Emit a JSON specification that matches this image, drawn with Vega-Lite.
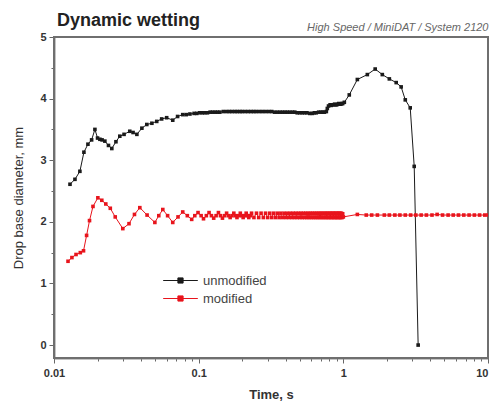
{
  "$schema": "https://vega.github.io/schema/vega-lite/v6.json",
  "autosize": "none",
  "width": 434,
  "height": 321,
  "padding": {"left": 54, "top": 37, "right": 3, "bottom": 48},
  "background": "white",
  "config": {
    "font": "Liberation Sans",
    "view": {"stroke": "#777777", "strokeWidth": 2}
  },
  "title": {
    "text": "Dynamic wetting",
    "anchor": "start",
    "frame": "group",
    "fontSize": 18,
    "fontWeight": "bold",
    "color": "#222",
    "dx": 3,
    "dy": 13
  },
  "data": {
    "values": [
      {"t": 0.0129, "d": 2.61, "s": "unmodified"},
      {"t": 0.01396, "d": 2.69, "s": "unmodified"},
      {"t": 0.0151, "d": 2.82, "s": "unmodified"},
      {"t": 0.0161, "d": 3.13, "s": "unmodified"},
      {"t": 0.01716, "d": 3.26, "s": "unmodified"},
      {"t": 0.0182, "d": 3.33, "s": "unmodified"},
      {"t": 0.01918, "d": 3.5, "s": "unmodified"},
      {"t": 0.02, "d": 3.36, "s": "unmodified"},
      {"t": 0.02076, "d": 3.34, "s": "unmodified"},
      {"t": 0.0215, "d": 3.33, "s": "unmodified"},
      {"t": 0.02247, "d": 3.31, "s": "unmodified"},
      {"t": 0.0238, "d": 3.24, "s": "unmodified"},
      {"t": 0.0251, "d": 3.19, "s": "unmodified"},
      {"t": 0.0268, "d": 3.3, "s": "unmodified"},
      {"t": 0.0285, "d": 3.39, "s": "unmodified"},
      {"t": 0.0305, "d": 3.42, "s": "unmodified"},
      {"t": 0.0334, "d": 3.47, "s": "unmodified"},
      {"t": 0.0352, "d": 3.45, "s": "unmodified"},
      {"t": 0.0374, "d": 3.42, "s": "unmodified"},
      {"t": 0.0405, "d": 3.52, "s": "unmodified"},
      {"t": 0.0438, "d": 3.58, "s": "unmodified"},
      {"t": 0.0475, "d": 3.6, "s": "unmodified"},
      {"t": 0.0513, "d": 3.63, "s": "unmodified"},
      {"t": 0.0555, "d": 3.67, "s": "unmodified"},
      {"t": 0.0601, "d": 3.69, "s": "unmodified"},
      {"t": 0.0662, "d": 3.65, "s": "unmodified"},
      {"t": 0.0715, "d": 3.71, "s": "unmodified"},
      {"t": 0.0776, "d": 3.74, "s": "unmodified"},
      {"t": 0.082, "d": 3.74, "s": "unmodified"},
      {"t": 0.087, "d": 3.75, "s": "unmodified"},
      {"t": 0.093, "d": 3.76, "s": "unmodified"},
      {"t": 0.097, "d": 3.76, "s": "unmodified"},
      {"t": 0.1016, "d": 3.77, "s": "unmodified"},
      {"t": 0.106, "d": 3.77, "s": "unmodified"},
      {"t": 0.11, "d": 3.77, "s": "unmodified"},
      {"t": 0.115, "d": 3.77, "s": "unmodified"},
      {"t": 0.12, "d": 3.78, "s": "unmodified"},
      {"t": 0.125, "d": 3.78, "s": "unmodified"},
      {"t": 0.13, "d": 3.78, "s": "unmodified"},
      {"t": 0.135, "d": 3.78, "s": "unmodified"},
      {"t": 0.14, "d": 3.78, "s": "unmodified"},
      {"t": 0.148, "d": 3.79, "s": "unmodified"},
      {"t": 0.156, "d": 3.79, "s": "unmodified"},
      {"t": 0.163, "d": 3.79, "s": "unmodified"},
      {"t": 0.17, "d": 3.79, "s": "unmodified"},
      {"t": 0.178, "d": 3.79, "s": "unmodified"},
      {"t": 0.185, "d": 3.79, "s": "unmodified"},
      {"t": 0.193, "d": 3.79, "s": "unmodified"},
      {"t": 0.2, "d": 3.79, "s": "unmodified"},
      {"t": 0.21, "d": 3.79, "s": "unmodified"},
      {"t": 0.22, "d": 3.79, "s": "unmodified"},
      {"t": 0.23, "d": 3.79, "s": "unmodified"},
      {"t": 0.24, "d": 3.79, "s": "unmodified"},
      {"t": 0.25, "d": 3.79, "s": "unmodified"},
      {"t": 0.263, "d": 3.79, "s": "unmodified"},
      {"t": 0.276, "d": 3.79, "s": "unmodified"},
      {"t": 0.29, "d": 3.79, "s": "unmodified"},
      {"t": 0.305, "d": 3.79, "s": "unmodified"},
      {"t": 0.32, "d": 3.79, "s": "unmodified"},
      {"t": 0.335, "d": 3.78, "s": "unmodified"},
      {"t": 0.35, "d": 3.78, "s": "unmodified"},
      {"t": 0.365, "d": 3.78, "s": "unmodified"},
      {"t": 0.38, "d": 3.78, "s": "unmodified"},
      {"t": 0.395, "d": 3.78, "s": "unmodified"},
      {"t": 0.41, "d": 3.78, "s": "unmodified"},
      {"t": 0.427, "d": 3.78, "s": "unmodified"},
      {"t": 0.445, "d": 3.78, "s": "unmodified"},
      {"t": 0.462, "d": 3.78, "s": "unmodified"},
      {"t": 0.48, "d": 3.77, "s": "unmodified"},
      {"t": 0.5, "d": 3.77, "s": "unmodified"},
      {"t": 0.52, "d": 3.77, "s": "unmodified"},
      {"t": 0.54, "d": 3.77, "s": "unmodified"},
      {"t": 0.56, "d": 3.77, "s": "unmodified"},
      {"t": 0.585, "d": 3.76, "s": "unmodified"},
      {"t": 0.611, "d": 3.76, "s": "unmodified"},
      {"t": 0.63, "d": 3.77, "s": "unmodified"},
      {"t": 0.65, "d": 3.77, "s": "unmodified"},
      {"t": 0.675, "d": 3.78, "s": "unmodified"},
      {"t": 0.7, "d": 3.78, "s": "unmodified"},
      {"t": 0.72, "d": 3.78, "s": "unmodified"},
      {"t": 0.74, "d": 3.78, "s": "unmodified"},
      {"t": 0.763, "d": 3.79, "s": "unmodified"},
      {"t": 0.775, "d": 3.84, "s": "unmodified"},
      {"t": 0.79, "d": 3.88, "s": "unmodified"},
      {"t": 0.81, "d": 3.9, "s": "unmodified"},
      {"t": 0.825, "d": 3.89, "s": "unmodified"},
      {"t": 0.84, "d": 3.9, "s": "unmodified"},
      {"t": 0.855, "d": 3.9, "s": "unmodified"},
      {"t": 0.87, "d": 3.91, "s": "unmodified"},
      {"t": 0.885, "d": 3.9, "s": "unmodified"},
      {"t": 0.9, "d": 3.9, "s": "unmodified"},
      {"t": 0.915, "d": 3.91, "s": "unmodified"},
      {"t": 0.93, "d": 3.92, "s": "unmodified"},
      {"t": 0.945, "d": 3.91, "s": "unmodified"},
      {"t": 0.96, "d": 3.91, "s": "unmodified"},
      {"t": 0.975, "d": 3.92, "s": "unmodified"},
      {"t": 0.99, "d": 3.92, "s": "unmodified"},
      {"t": 1.016, "d": 3.94, "s": "unmodified"},
      {"t": 1.099, "d": 4.06, "s": "unmodified"},
      {"t": 1.25, "d": 4.31, "s": "unmodified"},
      {"t": 1.465, "d": 4.39, "s": "unmodified"},
      {"t": 1.66, "d": 4.48, "s": "unmodified"},
      {"t": 1.86, "d": 4.39, "s": "unmodified"},
      {"t": 2.08, "d": 4.32, "s": "unmodified"},
      {"t": 2.32, "d": 4.26, "s": "unmodified"},
      {"t": 2.51, "d": 4.19, "s": "unmodified"},
      {"t": 2.68, "d": 3.98, "s": "unmodified"},
      {"t": 2.9, "d": 3.85, "s": "unmodified"},
      {"t": 3.09, "d": 2.9, "s": "unmodified"},
      {"t": 3.29, "d": 0, "s": "unmodified"},
      {"t": 0.0125, "d": 1.36, "s": "modified"},
      {"t": 0.0133, "d": 1.42, "s": "modified"},
      {"t": 0.0142, "d": 1.47, "s": "modified"},
      {"t": 0.0152, "d": 1.5, "s": "modified"},
      {"t": 0.016, "d": 1.53, "s": "modified"},
      {"t": 0.0168, "d": 1.78, "s": "modified"},
      {"t": 0.0176, "d": 2.02, "s": "modified"},
      {"t": 0.0186, "d": 2.25, "s": "modified"},
      {"t": 0.0201, "d": 2.39, "s": "modified"},
      {"t": 0.0214, "d": 2.35, "s": "modified"},
      {"t": 0.0228, "d": 2.29, "s": "modified"},
      {"t": 0.0245, "d": 2.22, "s": "modified"},
      {"t": 0.0265, "d": 2.08, "s": "modified"},
      {"t": 0.0299, "d": 1.89, "s": "modified"},
      {"t": 0.033, "d": 1.97, "s": "modified"},
      {"t": 0.036, "d": 2.12, "s": "modified"},
      {"t": 0.0392, "d": 2.23, "s": "modified"},
      {"t": 0.044, "d": 2.11, "s": "modified"},
      {"t": 0.0498, "d": 1.99, "s": "modified"},
      {"t": 0.053, "d": 2.1, "s": "modified"},
      {"t": 0.0565, "d": 2.2, "s": "modified"},
      {"t": 0.061, "d": 2.1, "s": "modified"},
      {"t": 0.0662, "d": 1.99, "s": "modified"},
      {"t": 0.072, "d": 2.08, "s": "modified"},
      {"t": 0.0776, "d": 2.16, "s": "modified"},
      {"t": 0.0835, "d": 2.1, "s": "modified"},
      {"t": 0.0895, "d": 2.04, "s": "modified"},
      {"t": 0.094, "d": 2.1, "s": "modified"},
      {"t": 0.099, "d": 2.15, "s": "modified"},
      {"t": 0.104, "d": 2.1, "s": "modified"},
      {"t": 0.108, "d": 2.05, "s": "modified"},
      {"t": 0.113, "d": 2.1, "s": "modified"},
      {"t": 0.118, "d": 2.15, "s": "modified"},
      {"t": 0.1225, "d": 2.1, "s": "modified"},
      {"t": 0.127, "d": 2.06, "s": "modified"},
      {"t": 0.132, "d": 2.1, "s": "modified"},
      {"t": 0.137, "d": 2.15, "s": "modified"},
      {"t": 0.1415, "d": 2.1, "s": "modified"},
      {"t": 0.146, "d": 2.06, "s": "modified"},
      {"t": 0.151, "d": 2.1, "s": "modified"},
      {"t": 0.156, "d": 2.14, "s": "modified"},
      {"t": 0.1605, "d": 2.1, "s": "modified"},
      {"t": 0.165, "d": 2.07, "s": "modified"},
      {"t": 0.17, "d": 2.1, "s": "modified"},
      {"t": 0.175, "d": 2.14, "s": "modified"},
      {"t": 0.1795, "d": 2.1, "s": "modified"},
      {"t": 0.184, "d": 2.07, "s": "modified"},
      {"t": 0.189, "d": 2.1, "s": "modified"},
      {"t": 0.194, "d": 2.14, "s": "modified"},
      {"t": 0.1985, "d": 2.1, "s": "modified"},
      {"t": 0.203, "d": 2.07, "s": "modified"},
      {"t": 0.208, "d": 2.1, "s": "modified"},
      {"t": 0.213, "d": 2.14, "s": "modified"},
      {"t": 0.2175, "d": 2.1, "s": "modified"},
      {"t": 0.222, "d": 2.07, "s": "modified"},
      {"t": 0.227, "d": 2.1, "s": "modified"},
      {"t": 0.232, "d": 2.14, "s": "modified"},
      {"t": 0.241, "d": 2.07, "s": "modified"},
      {"t": 0.251, "d": 2.14, "s": "modified"},
      {"t": 0.26, "d": 2.07, "s": "modified"},
      {"t": 0.27, "d": 2.14, "s": "modified"},
      {"t": 0.28, "d": 2.07, "s": "modified"},
      {"t": 0.29, "d": 2.14, "s": "modified"},
      {"t": 0.3, "d": 2.07, "s": "modified"},
      {"t": 0.31, "d": 2.14, "s": "modified"},
      {"t": 0.32, "d": 2.07, "s": "modified"},
      {"t": 0.33, "d": 2.14, "s": "modified"},
      {"t": 0.34, "d": 2.07, "s": "modified"},
      {"t": 0.35, "d": 2.14, "s": "modified"},
      {"t": 0.36, "d": 2.07, "s": "modified"},
      {"t": 0.37, "d": 2.14, "s": "modified"},
      {"t": 0.38, "d": 2.07, "s": "modified"},
      {"t": 0.39, "d": 2.14, "s": "modified"},
      {"t": 0.4, "d": 2.07, "s": "modified"},
      {"t": 0.41, "d": 2.14, "s": "modified"},
      {"t": 0.42, "d": 2.07, "s": "modified"},
      {"t": 0.43, "d": 2.14, "s": "modified"},
      {"t": 0.44, "d": 2.07, "s": "modified"},
      {"t": 0.45, "d": 2.14, "s": "modified"},
      {"t": 0.46, "d": 2.07, "s": "modified"},
      {"t": 0.47, "d": 2.14, "s": "modified"},
      {"t": 0.48, "d": 2.07, "s": "modified"},
      {"t": 0.49, "d": 2.14, "s": "modified"},
      {"t": 0.5, "d": 2.07, "s": "modified"},
      {"t": 0.51, "d": 2.14, "s": "modified"},
      {"t": 0.52, "d": 2.07, "s": "modified"},
      {"t": 0.53, "d": 2.14, "s": "modified"},
      {"t": 0.54, "d": 2.07, "s": "modified"},
      {"t": 0.55, "d": 2.14, "s": "modified"},
      {"t": 0.56, "d": 2.07, "s": "modified"},
      {"t": 0.57, "d": 2.14, "s": "modified"},
      {"t": 0.58, "d": 2.07, "s": "modified"},
      {"t": 0.59, "d": 2.14, "s": "modified"},
      {"t": 0.6, "d": 2.07, "s": "modified"},
      {"t": 0.61, "d": 2.14, "s": "modified"},
      {"t": 0.62, "d": 2.07, "s": "modified"},
      {"t": 0.63, "d": 2.14, "s": "modified"},
      {"t": 0.64, "d": 2.07, "s": "modified"},
      {"t": 0.65, "d": 2.14, "s": "modified"},
      {"t": 0.66, "d": 2.07, "s": "modified"},
      {"t": 0.67, "d": 2.14, "s": "modified"},
      {"t": 0.68, "d": 2.07, "s": "modified"},
      {"t": 0.69, "d": 2.14, "s": "modified"},
      {"t": 0.7, "d": 2.07, "s": "modified"},
      {"t": 0.71, "d": 2.14, "s": "modified"},
      {"t": 0.72, "d": 2.07, "s": "modified"},
      {"t": 0.73, "d": 2.14, "s": "modified"},
      {"t": 0.74, "d": 2.07, "s": "modified"},
      {"t": 0.75, "d": 2.14, "s": "modified"},
      {"t": 0.76, "d": 2.07, "s": "modified"},
      {"t": 0.77, "d": 2.14, "s": "modified"},
      {"t": 0.78, "d": 2.07, "s": "modified"},
      {"t": 0.79, "d": 2.14, "s": "modified"},
      {"t": 0.8, "d": 2.07, "s": "modified"},
      {"t": 0.81, "d": 2.14, "s": "modified"},
      {"t": 0.82, "d": 2.07, "s": "modified"},
      {"t": 0.83, "d": 2.14, "s": "modified"},
      {"t": 0.84, "d": 2.07, "s": "modified"},
      {"t": 0.85, "d": 2.14, "s": "modified"},
      {"t": 0.86, "d": 2.07, "s": "modified"},
      {"t": 0.87, "d": 2.14, "s": "modified"},
      {"t": 0.88, "d": 2.07, "s": "modified"},
      {"t": 0.89, "d": 2.14, "s": "modified"},
      {"t": 0.9, "d": 2.07, "s": "modified"},
      {"t": 0.91, "d": 2.14, "s": "modified"},
      {"t": 0.92, "d": 2.07, "s": "modified"},
      {"t": 0.93, "d": 2.14, "s": "modified"},
      {"t": 0.94, "d": 2.07, "s": "modified"},
      {"t": 0.95, "d": 2.14, "s": "modified"},
      {"t": 0.96, "d": 2.07, "s": "modified"},
      {"t": 0.97, "d": 2.14, "s": "modified"},
      {"t": 0.98, "d": 2.07, "s": "modified"},
      {"t": 0.99, "d": 2.13, "s": "modified"},
      {"t": 1.0, "d": 2.08, "s": "modified"},
      {"t": 1.25, "d": 2.12, "s": "modified"},
      {"t": 1.44, "d": 2.11, "s": "modified"},
      {"t": 1.57, "d": 2.11, "s": "modified"},
      {"t": 1.72, "d": 2.11, "s": "modified"},
      {"t": 1.92, "d": 2.11, "s": "modified"},
      {"t": 2.08, "d": 2.11, "s": "modified"},
      {"t": 2.27, "d": 2.11, "s": "modified"},
      {"t": 2.46, "d": 2.11, "s": "modified"},
      {"t": 2.68, "d": 2.11, "s": "modified"},
      {"t": 2.92, "d": 2.11, "s": "modified"},
      {"t": 3.17, "d": 2.11, "s": "modified"},
      {"t": 3.45, "d": 2.11, "s": "modified"},
      {"t": 3.75, "d": 2.11, "s": "modified"},
      {"t": 4.1, "d": 2.11, "s": "modified"},
      {"t": 4.45, "d": 2.12, "s": "modified"},
      {"t": 4.85, "d": 2.11, "s": "modified"},
      {"t": 5.3, "d": 2.11, "s": "modified"},
      {"t": 5.75, "d": 2.11, "s": "modified"},
      {"t": 6.25, "d": 2.11, "s": "modified"},
      {"t": 6.8, "d": 2.11, "s": "modified"},
      {"t": 7.4, "d": 2.11, "s": "modified"},
      {"t": 8.05, "d": 2.11, "s": "modified"},
      {"t": 8.75, "d": 2.11, "s": "modified"},
      {"t": 9.5, "d": 2.11, "s": "modified"},
      {"t": 10, "d": 2.11, "s": "modified"}
    ]
  },
  "resolve": {"axis": {"x": "independent", "y": "independent"}},
  "layer": [
    {
      "mark": {"type": "rect", "filled": false, "fill": "transparent", "stroke": "#6f6f6f", "strokeWidth": 2, "opacity": 1, "strokeOpacity": 1},
      "encoding": {
        "x": {"datum": 0.01, "type": "quantitative", "axis": null},
        "x2": {"datum": 10},
        "y": {"datum": -0.21, "type": "quantitative", "axis": null},
        "y2": {"datum": 5}
      }
    },
    {
      "mark": {"type": "line", "strokeWidth": 1, "clip": true},
      "encoding": {
        "x": {
          "field": "t",
          "type": "quantitative",
          "scale": {"type": "log", "domain": [0.01, 10], "nice": false},
          "axis": {
            "orient": "bottom",
            "title": "Time, s",
            "titleFontSize": 13,
            "titleFontWeight": "bold",
            "titleColor": "#333",
            "titlePadding": 10,
            "values": [0.01, 0.02, 0.03, 0.04, 0.05, 0.06, 0.07, 0.08, 0.09, 0.1, 0.2, 0.3, 0.4, 0.5, 0.6, 0.7, 0.8, 0.9, 1, 2, 3, 4, 5, 6, 7, 8, 9, 10],
            "labelExpr": "datum.value == 0.01 ? '0.01' : datum.value == 0.1 ? '0.1' : datum.value == 1 ? '1' : datum.value == 10 ? '10' : ''",
            "labelAlign": {"condition": {"test": "datum.value == 10", "value": "right"}, "value": "center"},
            "labelFontSize": 11,
            "labelFontWeight": "bold",
            "labelColor": "#333",
            "labelPadding": 4,
            "labelFlush": false,
            "labelOverlap": false,
            "tickSize": {"condition": {"test": "datum.value == 0.01 || datum.value == 0.1 || datum.value == 1 || datum.value == 10", "value": 5}, "value": 3},
            "tickColor": "#666",
            "domainColor": "#8a8a8a",
            "domainWidth": 2,
            "grid": false
          }
        },
        "y": {
          "field": "d",
          "type": "quantitative",
          "scale": {"domain": [-0.21, 5], "nice": false, "zero": false},
          "axis": {
            "orient": "left",
            "title": "Drop base diameter, mm",
            "titleFontSize": 13,
            "titleFontWeight": "normal",
            "titleColor": "#333",
            "titlePadding": 14,
            "values": [0, 0.5, 1, 1.5, 2, 2.5, 3, 3.5, 4, 4.5, 5],
            "labelExpr": "datum.value % 1 == 0 ? format(datum.value, 'd') : ''",
            "labelFontSize": 11,
            "labelFontWeight": "bold",
            "labelColor": "#333",
            "labelPadding": 3,
            "tickSize": {"condition": {"test": "datum.value % 1 != 0", "value": 3}, "value": 5},
            "tickColor": "#666",
            "domainColor": "#8a8a8a",
            "domainWidth": 2,
            "grid": false
          }
        },
        "color": {
          "field": "s",
          "type": "nominal",
          "scale": {"domain": ["unmodified", "modified"], "range": ["#1a1a1a", "#e8141c"]},
          "legend": {
            "title": null,
            "orient": "none",
            "legendX": 117,
            "legendY": 234,
            "padding": 0,
            "symbolType": "M-2,0H2M-0.3,-0.3H0.3V0.3H-0.3Z",
            "symbolSize": 300,
            "symbolStrokeWidth": 1,
            "labelOffset": 13,
            "labelFontSize": 13,
            "labelColor": "#444",
            "rowPadding": 1
          }
        }
      }
    },
    {
      "mark": {"type": "point", "filled": true, "shape": "square", "size": 13, "opacity": 1, "clip": true},
      "encoding": {
        "x": {
          "field": "t",
          "type": "quantitative",
          "axis": {
            "orient": "top",
            "title": "High Speed / MiniDAT / System 2120",
            "titleAnchor": "end",
            "titleFontStyle": "italic",
            "titleFontWeight": "normal",
            "titleFontSize": 11,
            "titleColor": "#666",
            "titlePadding": 5,
            "labels": false,
            "ticks": false,
            "domain": false,
            "grid": false
          }
        },
        "y": {"field": "d", "type": "quantitative", "axis": null},
        "color": {"field": "s", "type": "nominal"}
      }
    }
  ]
}
